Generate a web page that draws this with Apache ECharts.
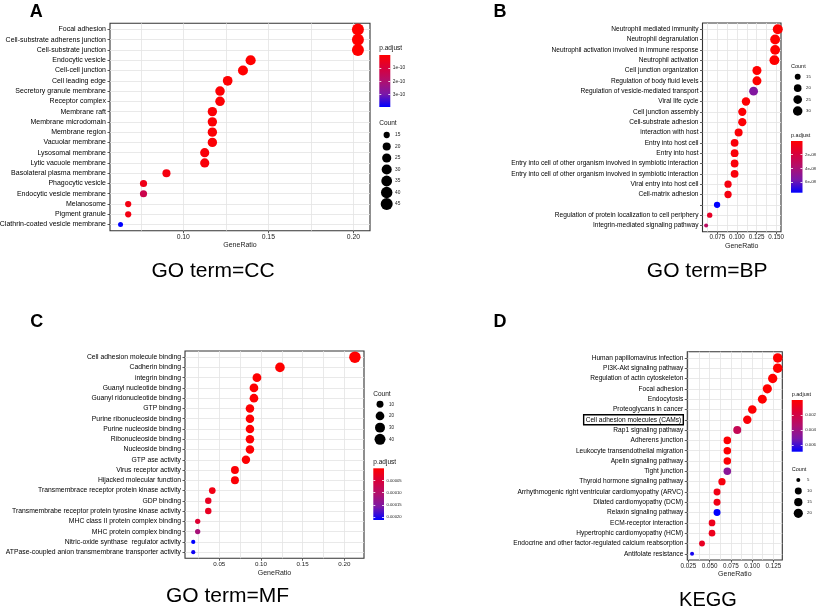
<!DOCTYPE html>
<html><head><meta charset="utf-8">
<script src="https://cdn.jsdelivr.net/npm/echarts@6/dist/echarts.min.js"></script>
<style>html,body{margin:0;padding:0;background:#fff}#c{width:820px;height:612px}</style>
</head><body><div id="c"></div>
<script>
// ---------- Panel A : GO term = CC ----------
const ccTerms = ['Focal adhesion','Cell-substrate adherens junction','Cell-substrate junction','Endocytic vesicle','Cell-cell junction','Cell leading edge','Secretory granule membrane','Receptor complex','Membrane raft','Membrane microdomain','Membrane region','Vacuolar membrane','Lysosomal membrane','Lytic vacuole membrane','Basolateral plasma membrane','Phagocytic vesicle','Endocytic vesicle membrane','Melanosome','Pigment granule','Clathrin-coated vesicle membrane'];
const ccRatio = [0.2027,0.2027,0.2027,0.1396,0.1351,0.1261,0.1216,0.1216,0.1171,0.1171,0.1171,0.1171,0.1126,0.1126,0.0901,0.0766,0.0766,0.0676,0.0676,0.0631];
const ccCount = [45,45,45,31,30,28,27,27,26,26,26,26,25,25,20,17,17,15,15,14];
const ccPadj = [2e-14,2e-14,3e-14,5e-13,1e-12,4e-12,6e-12,6e-12,9e-12,9e-12,9e-12,1e-11,1.5e-11,1.5e-11,2.5e-11,4e-11,1.3e-10,3e-11,3e-11,3.95e-10];
const ccCountBreaks = [15,20,25,30,35,40,45];
const ccPadjTicks = [1e-10,2e-10,3e-10];
const ccPadjLabels = ['1e-10','2e-10','3e-10'];
const ccXTicks = [0.10,0.15,0.20];
const ccXGrid = [0.075,0.10,0.125,0.15,0.175,0.20];

// ---------- Panel B : GO term = BP ----------
const bpTerms = ['Neutrophil mediated immunity','Neutrophil degranulation','Neutrophil activation involved in immune response','Neutrophil activation','Cell junction organization','Regulation of body fluid levels','Regulation of vesicle-mediated transport','Viral life cycle','Cell junction assembly','Cell-substrate adhesion','interaction with host','Entry into host cell','Entry into host','Entry into cell of other organism involved in symbiotic interaction','Entry into cell of other organism involved in symbiotic interaction','Viral entry into host cell','Cell-matrix adhesion','','Regulation of protein localization to cell periphery','Integrin-mediated signaling pathway'];
const bpRatio = [0.1521,0.1487,0.1487,0.1478,0.1255,0.1255,0.1212,0.1115,0.1068,0.1068,0.1021,0.0970,0.0970,0.0970,0.0970,0.0886,0.0886,0.0746,0.0652,0.0606];
const bpCount = [33,32,32,32,27,27,26,24,23,23,22,21,21,21,21,19,19,16,14,13];
const bpPadj = [2e-12,3e-12,3e-12,5e-12,2e-10,3e-10,5.4e-8,1e-9,1.5e-9,1.5e-9,2e-9,3e-9,3e-9,3e-9,3e-9,5e-9,5e-9,7.55e-8,1.2e-8,3.3e-8];
const bpCountBreaks = [15,20,25,30];
const bpPadjTicks = [2e-8,4e-8,6e-8];
const bpPadjLabels = ['2e-08','4e-08','6e-08'];
const bpXTicks = [0.075,0.100,0.125,0.150];
const bpXGrid = [0.0625,0.075,0.0875,0.100,0.1125,0.125,0.1375,0.150];

// ---------- Panel C : GO term = MF ----------
const mfTerms = ['Cell adhesion molecule binding','Cadherin binding','integrin binding','Guanyl nucleotide binding','Guanyl ridonucleotide binding','GTP binding','Purine ribonucleoside binding','Purine nucleoside binding','Ribonucleoside binding','Nucleoside binding','GTP ase activity','Virus receptor activity','Hijacked molecular function','Transmembrace receptor protein kinase activity','GDP binding','Transmembrabe receptor protein tyrosine kinase activity','MHC class II protein complex binding','MHC protein complex binding','Nitric-oxide synthase  regulator activity','ATPase-coupled anion transmembrane transporter activity'];
const mfRatio = [0.2127,0.1228,0.0952,0.0916,0.0916,0.0868,0.0868,0.0868,0.0868,0.0868,0.0820,0.0688,0.0688,0.0416,0.0368,0.0368,0.0241,0.0241,0.0188,0.0188];
const mfCount = [46,27,21,20,20,19,19,19,19,19,18,15,15,9,8,8,5,5,4,4];
const mfPadj = [1e-9,5e-8,1e-6,1.5e-6,1.5e-6,2e-6,2e-6,2e-6,2e-6,2e-6,3e-6,5e-6,5e-6,1.8e-5,3e-5,3e-5,4.5e-5,1.15e-4,2.12e-4,2.05e-4];
const mfCountBreaks = [10,20,30,40];
const mfPadjTicks = [5e-5,1e-4,1.5e-4,2e-4];
const mfPadjLabels = ['0.00005','0.00010','0.00015','0.00020'];
const mfXTicks = [0.05,0.10,0.15,0.20];
const mfXGrid = [0.025,0.05,0.075,0.10,0.125,0.15,0.175,0.20];

// ---------- Panel D : KEGG ----------
const kgTerms = ['Human papillomavirus infection','PI3K-Akt signaling pathway','Regulation of actin cytoskeleton','Focal adhesion','Endocytosis','Proteoglycans in cancer','Cell adhesion molecules (CAMs)','Rap1 signaling pathway','Adherens junction','Leukocyte transendothelial migration','Apelin signaling pathway','Tight junction','Thyroid hormone signaling pathway','Arrhythmogenic right ventricular cardiomyopathy (ARVC)','Dilated cardiomyopathy (DCM)','Relaxin signaling pathway','ECM-receptor interaction','Hypertrophic cardiomyopathy (HCM)','Endocrine and other factor-regulated calcium reabsorption','Antifolate resistance'];
const kgRatio = [0.1302,0.1302,0.1243,0.1180,0.1121,0.1003,0.0944,0.0826,0.0709,0.0709,0.0709,0.0709,0.0646,0.0588,0.0588,0.0588,0.0529,0.0529,0.0411,0.0294];
const kgCount = [22,22,21,20,19,17,16,14,12,12,12,12,11,10,10,10,9,9,7,5];
const kgPadj = [2e-6,2e-6,5e-6,1e-5,2e-5,1e-4,2e-4,2.6e-3,1e-4,1e-4,1.5e-4,4.7e-3,4e-4,6e-4,6e-4,6.9e-3,8e-4,8e-4,1e-3,6.6e-3];
const kgCountBreaks = [5,10,15,20];
const kgPadjTicks = [0.002,0.004,0.006];
const kgPadjLabels = ['0.002','0.004','0.006'];
const kgXTicks = [0.025,0.050,0.075,0.100,0.125];
const kgXGrid = [0.025,0.0375,0.05,0.0625,0.075,0.0875,0.10,0.1125,0.125];
const kgHighlight = 'Cell adhesion molecules (CAMs)';

// ---------- styling / layout ----------
const FONT = '"Liberation Sans", Arial, Helvetica, sans-serif';
const GRAD = ['#FF0000','#D8003C','#B0106E','#7A18A8','#0000FF'];

const panels = [
  {d:{terms:ccTerms,ratio:ccRatio,count:ccCount,padj:ccPadj,breaks:ccCountBreaks,pTicks:ccPadjTicks,pLabels:ccPadjLabels,xTicks:ccXTicks,xGrid:ccXGrid},
   grid:{l:110,t:23.3,w:260,h:207.4}, x:{min:0.0569,max:0.2098,dec:2,font:6.8}, yFont:7, size:[5,12],
   cb:{l:379.3,t:55,w:11,h:52,min:0,max:3.95e-10,font:4.8}, pTitle:[379.3,48.3], cTitle:[379.3,123.3], titleFont:6.5,
   leg:{cx:386.7,y0:135,y1:204,lx:395,font:4.8}, letter:['A',36.3,11.7], bottom:['GO term=CC',213,271,21]},
  {d:{terms:bpTerms,ratio:bpRatio,count:bpCount,padj:bpPadj,breaks:bpCountBreaks,pTicks:bpPadjTicks,pLabels:bpPadjLabels,xTicks:bpXTicks,xGrid:bpXGrid},
   grid:{l:702.5,t:23,w:78.5,h:208.7}, x:{min:0.056,max:0.1562,dec:3,font:6.3}, yFont:6.6, size:[4,10],
   cb:{l:791,t:141,w:11.5,h:51.7,min:0,max:7.55e-8,font:4.3}, pTitle:[791,135], cTitle:[791,66.7], titleFont:5.5,
   leg:{cx:797.7,y0:76.7,y1:111,lx:806,font:4.3}, letter:['B',500,11.7], bottom:['GO term=BP',707.2,271,21]},
  {d:{terms:mfTerms,ratio:mfRatio,count:mfCount,padj:mfPadj,breaks:mfCountBreaks,pTicks:mfPadjTicks,pLabels:mfPadjLabels,xTicks:mfXTicks,xGrid:mfXGrid},
   grid:{l:185,t:351,w:179,h:207.3}, x:{min:0.0089,max:0.2236,dec:2,font:6.2}, yFont:6.8, size:[4.2,11.5],
   cb:{l:373.3,t:468.3,w:10.7,h:51.7,min:0,max:2.12e-4,font:4.2}, pTitle:[373.3,462.7], cTitle:[373.3,394], titleFont:6.5,
   leg:{cx:380,y0:404.3,y1:439.3,lx:389,font:4.5}, letter:['C',36.7,321.7], bottom:['GO term=MF',227.5,596.5,21]},
  {d:{terms:kgTerms,ratio:kgRatio,count:kgCount,padj:kgPadj,breaks:kgCountBreaks,pTicks:kgPadjTicks,pLabels:kgPadjLabels,xTicks:kgXTicks,xGrid:kgXGrid},
   grid:{l:687.3,t:351.7,w:95,h:208.3}, x:{min:0.0238,max:0.1356,dec:3,font:6.3}, yFont:6.6, size:[4,9.5],
   cb:{l:791.7,t:400,w:11,h:51.7,min:0,max:6.9e-3,font:4.3}, pTitle:[791.7,394.3], cTitle:[791.7,469], titleFont:5.5,
   leg:{cx:798.3,y0:480,y1:513.3,lx:807,font:4.3}, letter:['D',500,321.7], bottom:['KEGG',708,600.5,20], highlight:kgHighlight}
];

const option = {animation:false, backgroundColor:'#fff', grid:[], xAxis:[], yAxis:[], series:[], visualMap:[], graphic:[]};
const gradStops = GRAD.map((c, i) => ({offset:i / (GRAD.length - 1), color:c}));

panels.forEach((P) => {
  const d = P.d;
  const cmin = Math.min(...d.count), cmax = Math.max(...d.count);
  const sz = c => P.size[0] + (P.size[1]-P.size[0]) * Math.sqrt(Math.max(0, c - cmin) / (cmax - cmin));

  // main plot
  const g = option.grid.length;
  option.grid.push({left:P.grid.l, top:P.grid.t, width:P.grid.w, height:P.grid.h, show:true,
    borderColor:'#333', borderWidth:1.1, backgroundColor:'#fff', containLabel:false, outerBoundsMode:'none'});
  const xi = option.xAxis.length;
  option.xAxis.push({type:'value', gridIndex:g, position:'bottom', min:P.x.min, max:P.x.max,
    axisLine:{show:false, onZero:false},
    axisTick:{show:true, length:2.5, lineStyle:{color:'#333', width:0.8}, customValues:d.xTicks},
    axisLabel:{customValues:d.xTicks, formatter:v => v.toFixed(P.x.dec), fontSize:P.x.font, color:'#222', margin:3, fontFamily:FONT, hideOverlap:false},
    splitLine:{show:false},
    name:'GeneRatio', nameLocation:'middle', nameGap:11, nameTextStyle:{fontSize:7, color:'#222', fontFamily:FONT}});
  option.xAxis.push({type:'value', gridIndex:g, position:'top', min:P.x.min, max:P.x.max,
    axisLine:{show:false, onZero:false}, axisTick:{show:false, customValues:d.xGrid},
    axisLabel:{show:false, customValues:d.xGrid},
    splitLine:{show:true, lineStyle:{color:'#e3e3e3', width:0.8}}});
  const yi = option.yAxis.length;
  const idx = d.terms.map((_, i) => i);
  option.yAxis.push({type:'value', gridIndex:g, min:-0.6, max:d.terms.length - 0.4, inverse:true,
    axisLine:{show:false, onZero:false},
    axisTick:{show:true, length:2.5, lineStyle:{color:'#333', width:0.8}, customValues:idx},
    axisLabel:{customValues:idx, fontSize:P.yFont, color:'#000', margin:4, fontFamily:FONT, hideOverlap:false,
      formatter:v => { const t = d.terms[Math.round(v)] || ''; return (P.highlight && t === P.highlight) ? '{box|' + t + '}' : t; },
      rich:{box:{borderColor:'#000', borderWidth:1.4, padding:[2,2,1,2], fontSize:P.yFont, fontFamily:FONT, color:'#000'}}},
    splitLine:{show:true, lineStyle:{color:'#e3e3e3', width:0.8}}});
  const si = option.series.length;
  option.series.push({type:'scatter', xAxisIndex:xi, yAxisIndex:yi, clip:false, silent:true, z:3,
    data:d.ratio.map((r, i) => [r, i, d.count[i], d.padj[i]]),
    symbolSize:v => sz(v[2]), itemStyle:{opacity:1}});
  option.visualMap.push({type:'continuous', show:false, seriesIndex:si, dimension:3, min:P.cb.min, max:P.cb.max,
    inRange:{color:GRAD}});

  // colorbar (legend) and its tick labels
  option.graphic.push({type:'rect', silent:true, z:1,
    shape:{x:P.cb.l, y:P.cb.t, width:P.cb.w, height:P.cb.h},
    style:{fill:{type:'linear', x:0, y:0, x2:0, y2:1, colorStops:gradStops}}});
  const cg = option.grid.length;
  option.grid.push({left:P.cb.l, top:P.cb.t, width:P.cb.w, height:P.cb.h, show:false, containLabel:false, outerBoundsMode:'none'});
  option.xAxis.push({type:'value', gridIndex:cg, show:false, min:0, max:1, axisLine:{onZero:false}});
  const fmtP = v => { const k = d.pTicks.findIndex(t => Math.abs(t - v) <= Math.abs(t) * 1e-6); return k >= 0 ? d.pLabels[k] : ''; };
  option.yAxis.push({type:'value', gridIndex:cg, position:'right', min:P.cb.min, max:P.cb.max, inverse:true, z:10,
    axisLine:{show:false, onZero:false},
    axisTick:{show:true, inside:true, length:2, lineStyle:{color:'#fff', width:0.8}, customValues:d.pTicks},
    axisLabel:{customValues:d.pTicks, formatter:fmtP, fontSize:P.cb.font, color:'#222', margin:2.5, fontFamily:FONT, hideOverlap:false},
    splitLine:{show:false}});
  option.yAxis.push({type:'value', gridIndex:cg, position:'left', min:P.cb.min, max:P.cb.max, inverse:true, z:10,
    axisLine:{show:false, onZero:false},
    axisTick:{show:true, inside:true, length:2, lineStyle:{color:'#fff', width:0.8}, customValues:d.pTicks},
    axisLabel:{show:false, customValues:d.pTicks}, splitLine:{show:false}});

  // count legend
  const k = d.breaks.length;
  const sp = (P.leg.y1 - P.leg.y0) / (k - 1);
  const lg = option.grid.length;
  option.grid.push({left:P.leg.cx - 5, top:P.leg.y0 - sp / 2, width:10, height:sp * k, show:false, containLabel:false, outerBoundsMode:'none'});
  const lxi = option.xAxis.length;
  option.xAxis.push({type:'value', gridIndex:lg, show:false, min:0, max:1, axisLine:{onZero:false}});
  const lyi = option.yAxis.length;
  const bidx = d.breaks.map((_, i) => i);
  option.yAxis.push({type:'value', gridIndex:lg, position:'right', min:-0.5, max:k - 0.5, inverse:true,
    axisLine:{show:false, onZero:false}, axisTick:{show:false, customValues:bidx},
    axisLabel:{customValues:bidx, formatter:v => String(d.breaks[Math.round(v)]), fontSize:P.leg.font, color:'#222',
      margin:P.leg.lx - (P.leg.cx + 5), fontFamily:FONT, hideOverlap:false},
    splitLine:{show:false}});
  option.series.push({type:'scatter', xAxisIndex:lxi, yAxisIndex:lyi, clip:false, silent:true,
    data:d.breaks.map((b, i) => [0.5, i, b]), symbolSize:v => sz(v[2]), itemStyle:{color:'#000', opacity:1}});

  // texts
  option.graphic.push({type:'text', x:P.pTitle[0], y:P.pTitle[1], silent:true, z:100,
    style:{text:'p.adjust', fontSize:P.titleFont, fontFamily:FONT, fill:'#111', align:'left', verticalAlign:'middle'}});
  option.graphic.push({type:'text', x:P.cTitle[0], y:P.cTitle[1], silent:true, z:100,
    style:{text:'Count', fontSize:P.titleFont, fontFamily:FONT, fill:'#111', align:'left', verticalAlign:'middle'}});
  option.graphic.push({type:'text', x:P.letter[1], y:P.letter[2], silent:true, z:100,
    style:{text:P.letter[0], fontSize:18, fontWeight:'bold', fontFamily:FONT, fill:'#000', align:'center', verticalAlign:'middle'}});
  option.graphic.push({type:'text', x:P.bottom[1], y:P.bottom[2], silent:true, z:100,
    style:{text:P.bottom[0], fontSize:P.bottom[3], fontFamily:FONT, fill:'#000', align:'center', verticalAlign:'middle'}});
});

const chart = echarts.init(document.getElementById('c'), null, {renderer:'canvas'});
chart.setOption(option);
</script>
</body></html>
